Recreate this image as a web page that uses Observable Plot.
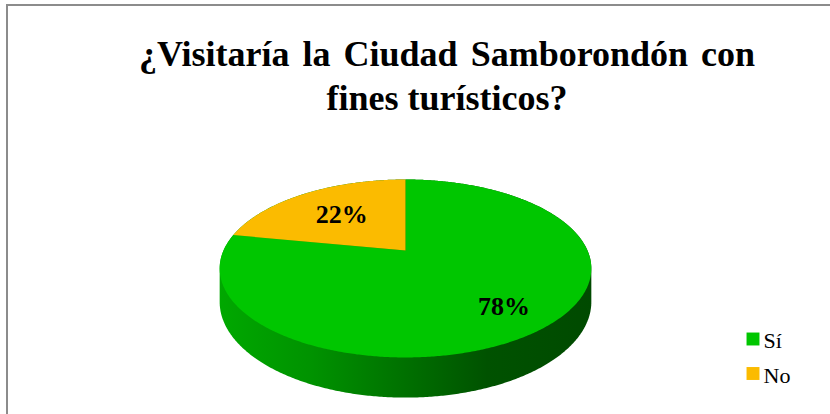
<!DOCTYPE html>
<html>
<head>
<meta charset="utf-8">
<script src="https://cdn.jsdelivr.net/npm/d3@7"></script>
<script src="https://cdn.jsdelivr.net/npm/@observablehq/plot@0.6"></script>
<style>
  html, body { margin: 0; padding: 0; background: #fff; overflow: hidden; width: 830px; height: 414px; }
  #frame { position: absolute; left: 6px; top: 4px; width: 1000px; height: 1000px;
           border-top: 2px solid #8c8c8c; border-left: 2px solid #8c8c8c; box-sizing: border-box; }
  #title { position: absolute; left: 0; top: 32px; width: 894px; text-align: center;
           font-family: "Liberation Serif", "Times New Roman", serif; font-weight: bold;
           font-size: 36px; line-height: 44px; color: #000; margin: 0; }
  #title .l1 { word-spacing: 4px; }
  #chart { position: absolute; left: 0; top: 120px; }
</style>
</head>
<body>
<div id="frame"></div>
<h2 id="title"><span class="l1">¿Visitaría la Ciudad Samborondón con</span><br>fines turísticos?</h2>
<div id="chart"></div>
<script>
// ---- data ----
const categorias = ["Sí", "No"];
const porcentajes = [78, 22];
const colores = ["#00c600", "#fbbb00"];

// ---- layout (pixels) ----
const W = 830, H = 294;
const CX = 405, CY = 130, R = 182;          // pie centre / radius in svg px
const B = -0.202, C = 0.469, T0 = 0.176;   // perspective, tilt, thickness
const labelRadius = [0.75, 0.6];

const px2x = (px) => (px - CX) / R;
const py2y = (py) => (py - 120 - CY) / R;   // page y -> data y

function proj(theta, r = 1, drop = 0) {
  const u = r * Math.sin(theta), v = -r * Math.cos(theta);
  const s = 1 / (1 + B * v);
  return {X: u * s, Y: (C * v + drop) * s};
}

const arcs = d3.pie().sort(null).value(d => d)(porcentajes);

// top slices
const slices = arcs.map((a, i) => {
  const pts = [{X: 0, Y: 0}];
  const n = Math.max(2, Math.ceil((a.endAngle - a.startAngle) / (Math.PI / 360)));
  for (let k = 0; k <= n; k++) pts.push(proj(a.startAngle + (a.endAngle - a.startAngle) * k / n));
  return {pts, color: colores[i]};
});

// side wall (swept outline)
const ring = [];
for (let k = 0; k < 720; k++) {
  const t = 2 * Math.PI * k / 720;
  const p = proj(t), q = proj(t, 1, T0);
  ring.push([p.X, p.Y], [q.X, q.Y]);
}
const side = d3.polygonHull(ring).map(([X, Y]) => ({X, Y}));

// labels
const labels = arcs.map((a, i) => {
  const m = (a.startAngle + a.endAngle) / 2;
  const p = proj(m, labelRadius[i]);
  return {X: p.X, Y: p.Y, text: porcentajes[i] + "%"};
});

// legend
const legend = categorias.map((c, i) => ({
  X: px2x(752.5), Y: py2y(338.5 + 34.5 * i), tx: px2x(763), ty: py2y(340 + 35 * i),
  label: c, color: colores[i]
}));

function defs() {
  const ns = "http://www.w3.org/2000/svg";
  const g = document.createElementNS(ns, "defs");
  const lg = document.createElementNS(ns, "linearGradient");
  lg.setAttribute("id", "sideGrad");
  lg.setAttribute("x1", "0"); lg.setAttribute("x2", "1");
  lg.setAttribute("y1", "0"); lg.setAttribute("y2", "0");
  [[0, "#00a800"], [0.25, "#009200"], [0.5, "#007000"], [0.72, "#005200"], [1, "#004a00"]].forEach(([o, c]) => {
    const s = document.createElementNS(ns, "stop");
    s.setAttribute("offset", o); s.setAttribute("stop-color", c);
    lg.appendChild(s);
  });
  g.appendChild(lg);
  return g;
}

const plot = Plot.plot({
  width: W, height: H,
  margin: 0,
  x: {domain: [-CX / R, (W - CX) / R], range: [0, W], axis: null},
  y: {domain: [-CY / R, (H - CY) / R], range: [0, H], axis: null},
  style: {background: "transparent", overflow: "visible"},
  marks: [
    defs,
    Plot.line(side, {x: "X", y: "Y", curve: "linear-closed", stroke: "none", fill: "url(#sideGrad)"}),
    ...slices.map(s => Plot.line(s.pts, {x: "X", y: "Y", curve: "linear-closed", stroke: "none", fill: s.color})),
    Plot.text(labels, {x: "X", y: "Y", text: "text", fontSize: 26, fontWeight: "bold",
      fontFamily: "Liberation Serif, Times New Roman, serif", fill: "#000", textAnchor: "middle"}),
    Plot.dot(legend, {x: "X", y: "Y", symbol: "square", r: 7.3, fill: "color", stroke: "none"}),
    Plot.text(legend, {x: "tx", y: "ty", text: "label", fontSize: 22, textAnchor: "start",
      fontFamily: "Liberation Serif, Times New Roman, serif", fill: "#000"})
  ],
  color: {type: "identity"}
});
document.getElementById("chart").appendChild(plot);
</script>
</body>
</html>
